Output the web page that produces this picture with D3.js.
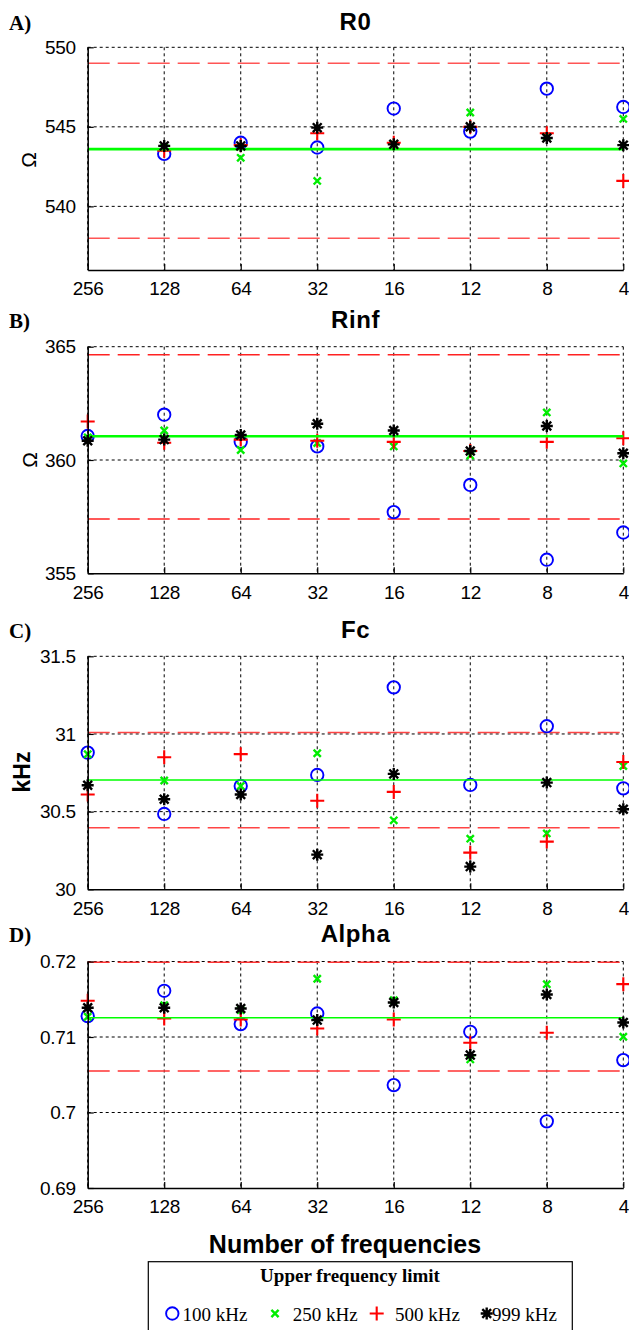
<!DOCTYPE html>
<html>
<head>
<meta charset="utf-8">
<script src="https://cdnjs.cloudflare.com/ajax/libs/d3/7.8.5/d3.min.js"></script>
<style>
  body { margin: 0; background: #fff; }
  text { font-family: "Liberation Sans", Arial, sans-serif; }
</style>
</head>
<body>
<div id="chart-area"></div>
<script>
/******************************
*			DATA			  *
******************************/
var categories = ["256", "128", "64", "32", "16", "12", "8", "4"];
var seriesNames = ["100 kHz", "250 kHz", "500 kHz", "999 kHz"];

// R0 (ohm)
var r0_100 = [null, 543.3, 544.0, 543.7, 546.15, 544.7, 547.4, 546.25];
var r0_250 = [null, 543.7, 543.05, 541.6, 543.9, 545.9, 544.4, 545.5];
var r0_500 = [null, 543.5, 543.85, 544.6, 544.0, 545.0, 544.6, 541.6];
var r0_999 = [null, 543.8, 543.8, 544.95, 543.9, 545.0, 544.3, 543.85];
var r0_ref = 543.6;
var r0_limits = [549, 538];
var r0_ticks = [540, 545, 550];
var r0_tickLabels = ["540", "545", "550"];

// Rinf (ohm)
var rinf_100 = [361.06, 362.0, 360.8, 360.6, 357.7, 358.9, 355.6, 356.8];
var rinf_250 = [361.0, 361.3, 360.44, 360.75, 360.6, 360.2, 362.1, 359.85];
var rinf_500 = [361.7, 360.76, 360.9, 360.85, 360.8, 360.4, 360.8, 360.96];
var rinf_999 = [360.85, 360.9, 361.1, 361.6, 361.3, 360.4, 361.5, 360.3];
var rinf_ref = 361.05;
var rinf_limits = [364.65, 357.4];
var rinf_ticks = [355, 360, 365];
var rinf_tickLabels = ["355", "360", "365"];

// Fc (kHz)
var fc_100 = [30.88, 30.485, 30.665, 30.736, 31.30, 30.672, 31.05, 30.65];
var fc_250 = [30.87, 30.70, 30.665, 30.876, 30.444, 30.326, 30.36, 30.794];
var fc_500 = [30.61, 30.85, 30.87, 30.57, 30.627, 30.236, 30.307, 30.82];
var fc_999 = [30.67, 30.58, 30.61, 30.223, 30.743, 30.146, 30.687, 30.515];
var fc_ref = 30.704;
var fc_limits = [31.01, 30.397];
var fc_ticks = [30, 30.5, 31, 31.5];
var fc_tickLabels = ["30", "30.5", "31", "31.5"];

// Alpha
var alpha_100 = [0.71277, 0.71612, 0.71171, 0.71312, 0.70363, 0.71069, 0.69883, 0.70694];
var alpha_250 = [0.71268, 0.71422, 0.71356, 0.71771, 0.71488, 0.70703, 0.7170, 0.71003];
var alpha_500 = [0.7148, 0.71246, 0.71232, 0.71113, 0.71232, 0.70924, 0.71056, 0.717];
var alpha_999 = [0.71387, 0.71387, 0.71378, 0.71224, 0.71457, 0.7076, 0.71563, 0.71193];
var alpha_ref = 0.71255;
var alpha_limits = [0.7199, 0.7055];
var alpha_ticks = [0.69, 0.70, 0.71, 0.72];
var alpha_tickLabels = ["0.69", "0.7", "0.71", "0.72"];

/******************************
*	PANELS (layout only)	  *
******************************/
var panels = [
	{ tag: "A)", title: "R0", ylab: "\u03A9", ybold: false, top: 47.3, bottom: 270,
	  domain: [536, 550], ticks: r0_ticks, labels: r0_tickLabels,
	  series: [r0_100, r0_250, r0_500, r0_999], ref: r0_ref, limits: r0_limits, refWidth: 2.6,
	  limitColor: "#ff5555", titleY: 29.5, ylabX: 29 },
	{ tag: "B)", title: "Rinf", ylab: "\u03A9", ybold: false, top: 346.7, bottom: 573.3,
	  domain: [355, 365], ticks: rinf_ticks, labels: rinf_tickLabels,
	  series: [rinf_100, rinf_250, rinf_500, rinf_999], ref: rinf_ref, limits: rinf_limits, refWidth: 2.6,
	  limitColor: "#ff2222", titleY: 328, ylabX: 30 },
	{ tag: "C)", title: "Fc", ylab: "kHz", ybold: true, top: 656.3, bottom: 889.3,
	  domain: [30, 31.5], ticks: fc_ticks, labels: fc_tickLabels,
	  series: [fc_100, fc_250, fc_500, fc_999], ref: fc_ref, limits: fc_limits, refWidth: 1.5,
	  limitColor: "#ff4444", titleY: 637.5, ylabX: 22 },
	{ tag: "D)", title: "Alpha", ylab: null, ybold: false, top: 961.5, bottom: 1188,
	  domain: [0.69, 0.72], ticks: alpha_ticks, labels: alpha_tickLabels,
	  series: [alpha_100, alpha_250, alpha_500, alpha_999], ref: alpha_ref, limits: alpha_limits, refWidth: 1.5,
	  limitColor: "#ff3333", titleY: 941.5, ylabX: 0 }
];

var svg = d3.select("#chart-area")
	.append("svg")
		.attr("width", 629)
		.attr("height", 1330);

// shared x-scale
var x = d3.scalePoint()
	.domain(categories)
	.range([87.7, 623.3]);

/******************************
*		  MARKERS			  *
******************************/
function drawMarker(sel, kind, cx, cy) {
	var m = sel.append("g").attr("transform", "translate(" + cx + "," + cy + ")");
	if (kind === 0) {
		m.append("circle").attr("r", 6.2).attr("fill", "none")
			.attr("stroke", "#0000ff").attr("stroke-width", 1.9);
	} else if (kind === 1) {
		var s = 3.6;
		m.append("path").attr("d", "M" + (-s) + "," + (-s) + "L" + s + "," + s + "M" + (-s) + "," + s + "L" + s + "," + (-s))
			.attr("stroke", "#00ee00").attr("stroke-width", 2.4);
	} else if (kind === 2) {
		var p = 7;
		m.append("path").attr("d", "M" + (-p) + ",0L" + p + ",0M0," + (-p) + "L0," + p)
			.attr("stroke", "#ff0000").attr("stroke-width", 2.1);
	} else {
		var a = 6, b = 4.4;
		m.append("path")
			.attr("d", "M" + (-a) + ",0L" + a + ",0M0," + (-a) + "L0," + a +
				"M" + (-b) + "," + (-b) + "L" + b + "," + b + "M" + (-b) + "," + b + "L" + b + "," + (-b))
			.attr("stroke", "#000").attr("stroke-width", 2.4);
		m.append("circle").attr("r", 3).attr("fill", "#000");
	}
}

/******************************
*			PANELS			  *
******************************/
panels.forEach(function(p) {
	var g = svg.append("g");
	var y = d3.scaleLinear().domain(p.domain).range([p.bottom, p.top]);
	var x0 = x.range()[0], x1 = x.range()[1];

	// grid: horizontal at y-ticks (not on the bottom axis)
	p.ticks.forEach(function(t) {
		if (y(t) < p.bottom - 1) {
			g.append("line")
				.attr("x1", x0).attr("x2", x1)
				.attr("y1", y(t)).attr("y2", y(t))
				.attr("stroke", "#000").attr("stroke-width", 1)
				.attr("stroke-dasharray", "3,3");
		}
	});
	// grid: vertical at every category
	categories.forEach(function(c) {
		g.append("line")
			.attr("x1", x(c)).attr("x2", x(c))
			.attr("y1", p.top).attr("y2", p.bottom)
			.attr("stroke", "#000").attr("stroke-width", 1)
			.attr("stroke-dasharray", "3,3");
	});

	// red dashed limits
	p.limits.forEach(function(v) {
		g.append("line")
			.attr("x1", x0).attr("x2", x1)
			.attr("y1", y(v)).attr("y2", y(v))
			.attr("stroke", p.limitColor).attr("stroke-width", 1.5)
			.attr("stroke-dasharray", "22,8");
	});

	// markers: 100, 250, 500 kHz
	[0, 1, 2].forEach(function(k) {
		p.series[k].forEach(function(v, i) {
			if (v !== null) drawMarker(g, k, x(categories[i]), y(v));
		});
	});

	// green reference line
	g.append("line")
		.attr("x1", x0).attr("x2", x1)
		.attr("y1", y(p.ref)).attr("y2", y(p.ref))
		.attr("stroke", "#00ff00").attr("stroke-width", p.refWidth);

	// 999 kHz on top
	p.series[3].forEach(function(v, i) {
		if (v !== null) drawMarker(g, 3, x(categories[i]), y(v));
	});

	// axes (solid left + bottom, inward ticks)
	var yAxisCall = d3.axisLeft(y)
		.tickValues(p.ticks)
		.tickSizeInner(-6)
		.tickSizeOuter(0)
		.tickPadding(12)
		.tickFormat(function(d, i) { return p.labels[i]; });
	var yAx = g.append("g")
		.attr("transform", "translate(" + x0 + ",0)")
		.call(yAxisCall);

	var xAxisCall = d3.axisBottom(x)
		.tickSizeInner(-6)
		.tickSizeOuter(0)
		.tickPadding(12);
	var xAx = g.append("g")
		.attr("transform", "translate(0," + p.bottom + ")")
		.call(xAxisCall);

	[yAx, xAx].forEach(function(ax) {
		ax.select(".domain").attr("stroke", "#000").attr("stroke-width", 1.5);
		ax.selectAll(".tick line").attr("stroke", "#000").attr("stroke-width", 1.2);
		ax.selectAll(".tick text")
			.attr("fill", "#000")
			.style("font-size", "19px")
			.style("font-family", "'Liberation Sans', Arial, sans-serif")
			.style("letter-spacing", "-0.3px");
	});

	// title
	g.append("text")
		.attr("x", (x0 + x1) / 2)
		.attr("y", p.titleY)
		.attr("text-anchor", "middle")
		.style("font-size", "24px")
		.style("font-weight", "bold")
		.style("letter-spacing", "0.6px")
		.text(p.title);

	// panel tag
	g.append("text")
		.attr("x", 9)
		.attr("y", p.titleY)
		.style("font-family", "'Liberation Serif', 'Times New Roman', serif")
		.style("font-size", "21px")
		.style("font-weight", "bold")
		.text(p.tag);

	// y-label
	if (p.ylab) {
		var cy = (p.ylab === "kHz") ? 772 : y(p.ticks[1]) + (p.title === "R0" ? 33 : 0);
		g.append("text")
			.attr("transform", "translate(" + p.ylabX + "," + cy + ") rotate(-90)")
			.attr("text-anchor", "middle")
			.attr("dy", "0.35em")
			.style("font-size", p.ybold ? "23px" : "21px")
			.style("font-weight", p.ybold ? "bold" : "normal")
			.text(p.ylab);
	}
});

/******************************
*		  X-LABEL			  *
******************************/
svg.append("text")
	.attr("x", 345)
	.attr("y", 1253)
	.attr("text-anchor", "middle")
	.style("font-size", "25px")
	.style("font-weight", "bold")
	.text("Number of frequencies");

/******************************
*			LEGEND			  *
******************************/
var legend = svg.append("g");
legend.append("rect")
	.attr("x", 148.3)
	.attr("y", 1261.7)
	.attr("width", 424)
	.attr("height", 90)
	.attr("fill", "#fff")
	.attr("stroke", "#000")
	.attr("stroke-width", 1.2);

legend.append("text")
	.attr("x", 350)
	.attr("y", 1282)
	.attr("text-anchor", "middle")
	.style("font-family", "'Liberation Serif', 'Times New Roman', serif")
	.style("font-size", "19px")
	.style("font-weight", "bold")
	.text("Upper frequency limit");

var legendMarkX = [172.3, 275, 376.7, 486.7];
var legendTextX = [182.5, 292.7, 395, 492];
seriesNames.forEach(function(name, k) {
	drawMarker(legend, k, legendMarkX[k], 1313.5);
	legend.append("text")
		.attr("x", legendTextX[k])
		.attr("y", 1320.7)
		.style("font-family", "'Liberation Serif', 'Times New Roman', serif")
		.style("font-size", "19px")
		.text(name);
});
</script>
</body>
</html>
